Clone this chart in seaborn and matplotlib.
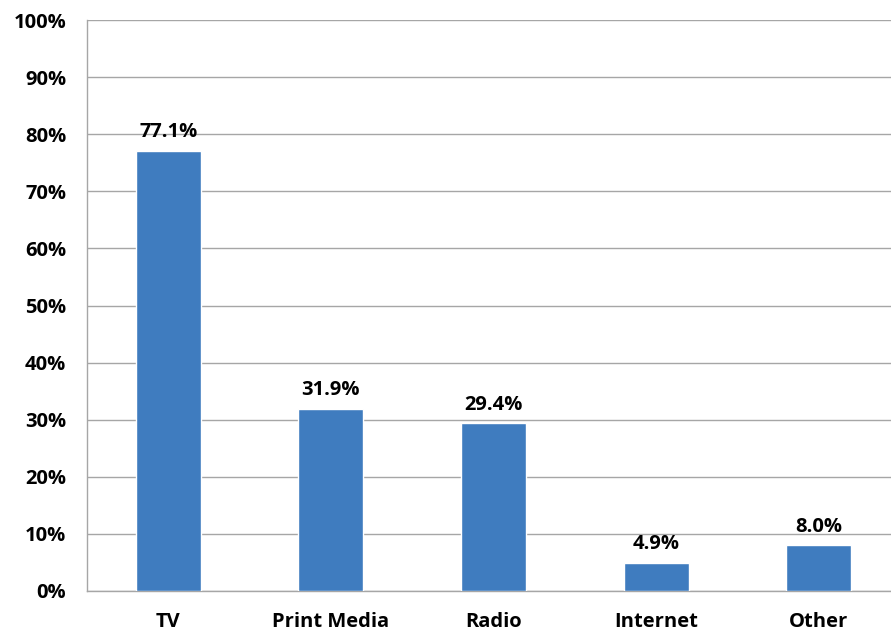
import matplotlib
matplotlib.use("Agg")
import matplotlib.pyplot as plt
import seaborn as sns
import numpy as np

categories = ['TV', 'Print Media', 'Radio', 'Internet', 'Other']
shares = [77.1, 31.9, 29.4, 4.9, 8.0]
yticks = list(range(0, 101, 10))

sns.set_style('white')
plt.rcParams['font.family'] = ['Open Sans', 'DejaVu Sans']

fig = plt.figure(figsize=(8.91, 6.32), dpi=100)
ax = fig.add_axes([87 / 891, 41 / 632, 813 / 891, 571 / 632])

sns.barplot(x=categories, y=shares, color='#3F7CBF', saturation=1, width=0.4, ax=ax, zorder=3)

for i, v in enumerate(shares):
    ax.text(i, v + 1.5, f'{v:.1f}%', ha='center', va='bottom', fontsize=14.5, fontweight='bold', color='black')

ax.set_ylim(0, 100)
ax.set_xlim(-0.5, 4.5)
ax.set_yticks(yticks)
ax.set_yticklabels([f'{t}%' for t in yticks], fontsize=14.5, fontweight='bold')
ax.yaxis.grid(True, color='#A6A6A6', lw=1, zorder=0)

# x ticks between categories, labels centred on bars
ax.set_xticks(np.arange(-0.5, 5, 1.0))
ax.set_xticklabels([])
ax.set_xticks(range(len(categories)), minor=True)
ax.set_xticklabels(categories, minor=True, fontsize=14.5, fontweight='bold')
ax.tick_params(axis='x', which='minor', length=0, pad=15, labelcolor='black')
ax.tick_params(axis='x', which='major', length=6, color='#A6A6A6', width=1, direction='out')
ax.tick_params(axis='y', length=6, color='#A6A6A6', width=1, direction='out', pad=9, labelcolor='black')

for s in ['top', 'right']:
    ax.spines[s].set_visible(False)
for s in ['left', 'bottom']:
    ax.spines[s].set_color('#A6A6A6')
    ax.spines[s].set_linewidth(1)

fig.savefig('out.png', dpi=100)
